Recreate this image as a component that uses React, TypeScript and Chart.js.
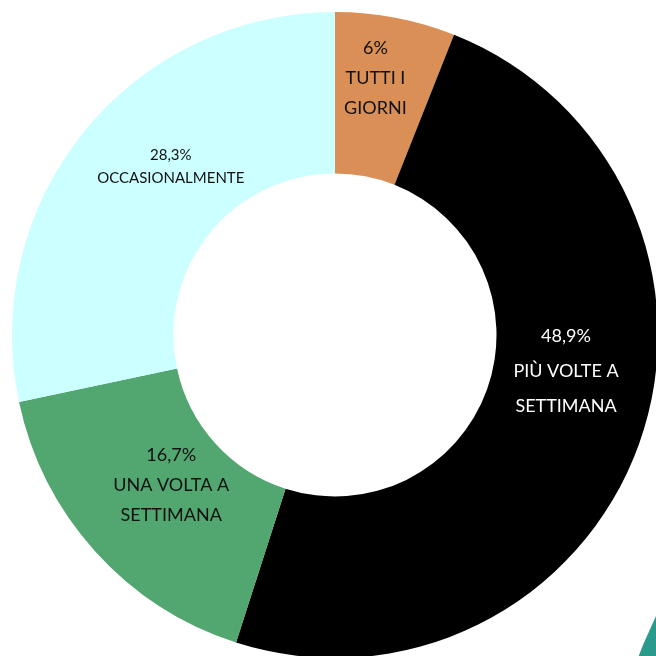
import React, { useEffect, useRef } from "react";
import { Chart, registerables } from "chart.js";

Chart.register(...registerables);

const categories = ["TUTTI I GIORNI", "PIÙ VOLTE A SETTIMANA", "UNA VOLTA A SETTIMANA", "OCCASIONALMENTE"];
const values = [6, 48.9, 16.7, 28.3];
const valueLabels = ["6%", "48,9%", "16,7%", "28,3%"];
const labelLines = [["TUTTI I", "GIORNI"], ["PIÙ VOLTE A", "SETTIMANA"], ["UNA VOLTA A", "SETTIMANA"], ["OCCASIONALMENTE"]];
const colors = ["#DA8F57", "#000000", "#52A66F", "#CCFFFF"];
const textColors = ["#111111", "#ffffff", "#111111", "#111111"];
const labelStyle = [
  { dx: -5, dy: -19, size: 18, gap: 30 },
  { dx: 3, dy: -46, size: 18, gap: 35 },
  { dx: 16, dy: -12, size: 18, gap: 30 },
  { dx: 24, dy: -16, size: 15, gap: 23 },
];

const labelPlugin = {
  id: "sliceLabels",
  afterDatasetsDraw(chart: any) {
    const ctx = chart.ctx;
    const meta = chart.getDatasetMeta(0);
    meta.data.forEach((arc: any, i: number) => {
      const p = arc.getCenterPoint();
      const st = labelStyle[i];
      const lines = [valueLabels[i], ...labelLines[i]];
      ctx.save();
      ctx.fillStyle = textColors[i];
      ctx.font = `${st.size}px Lato`;
      ctx.textAlign = "center";
      ctx.textBaseline = "middle";
      const total = (lines.length - 1) * st.gap;
      lines.forEach((l, k) => {
        ctx.fillText(l, p.x + st.dx, p.y + st.dy - total / 2 + k * st.gap);
      });
      ctx.restore();
    });
  },
};

export default function App() {
  const ref = useRef<HTMLCanvasElement>(null);
  useEffect(() => {
    const chart = new Chart(ref.current!, {
      type: "doughnut",
      data: {
        labels: categories,
        datasets: [{ data: values, backgroundColor: colors, borderWidth: 0 }],
      },
      options: {
        responsive: false,
        animation: false,
        cutout: "50%",
        layout: { padding: 12 },
        plugins: { legend: { display: false }, tooltip: { enabled: false } },
      },
      plugins: [labelPlugin],
    });
    return () => chart.destroy();
  }, []);
  return (
    <div style={{ position: "fixed", left: 0, top: 0, width: 656, height: 656, overflow: "hidden", background: "#fff" }}>
      <canvas ref={ref} width={670} height={670} style={{ position: "absolute", left: 0, top: 0 }} />
      <div
        style={{
          position: "absolute",
          left: 638,
          top: 616,
          width: 18,
          height: 40,
          background: "#2A9A8C",
          clipPath: "polygon(4% 100%, 30% 70%, 100% 0%, 100% 100%)",
        }}
      />
    </div>
  );
}
